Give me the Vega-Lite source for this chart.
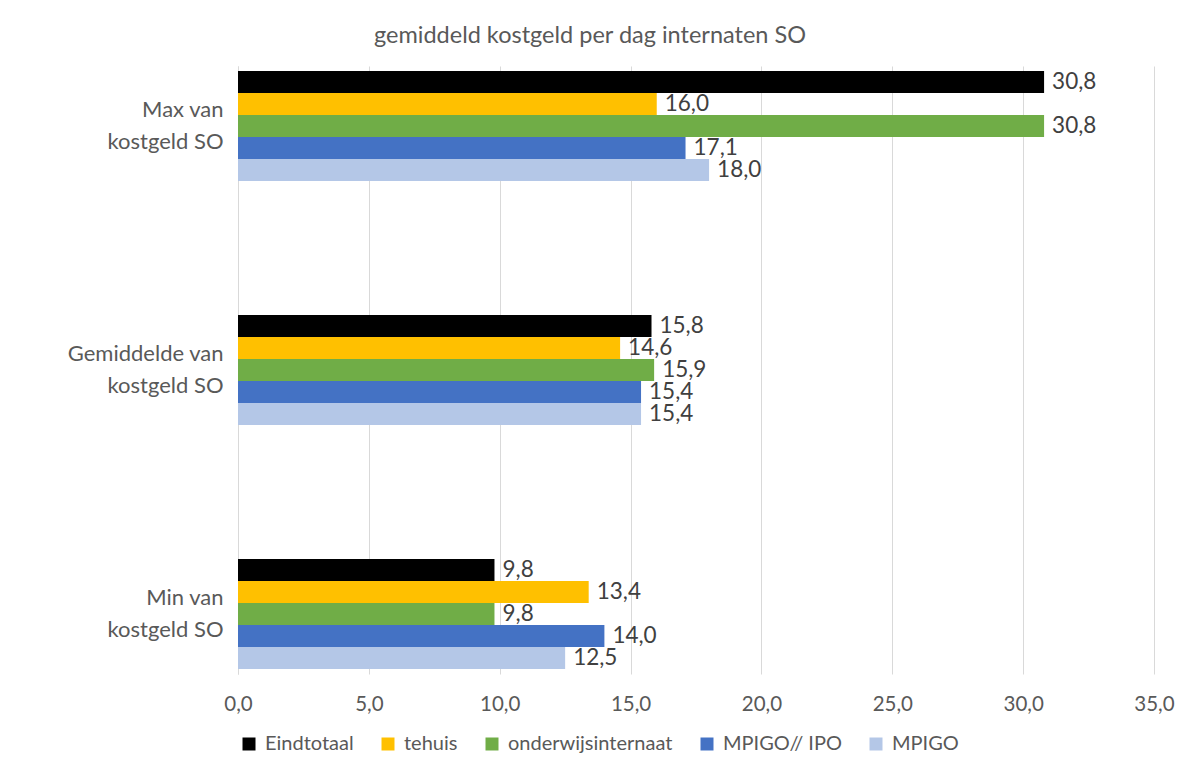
{
  "$schema": "https://vega.github.io/schema/vega-lite/v6.json",
  "width": 916,
  "height": 608,
  "autosize": {"type": "none"},
  "padding": {"left": 238, "top": 66, "right": 27, "bottom": 98},
  "background": "white",
  "config": {
    "locale": {"number": {"decimal": ",", "thousands": ".", "grouping": [3], "currency": ["€", ""]}},
    "view": {"stroke": null},
    "font": "Lato"
  },
  "title": {
    "text": "gemiddeld kostgeld per dag internaten SO",
    "fontSize": 23.5,
    "fontWeight": "normal",
    "color": "#595959",
    "font": "Lato",
    "anchor": "middle",
    "baseline": "bottom",
    "dx": -106,
    "offset": -5
  },
  "data": {
    "values": [
      {"cat": "Max van kostgeld SO", "series": "Eindtotaal", "value": 30.8},
      {"cat": "Max van kostgeld SO", "series": "tehuis", "value": 16.0},
      {"cat": "Max van kostgeld SO", "series": "onderwijsinternaat", "value": 30.8},
      {"cat": "Max van kostgeld SO", "series": "MPIGO// IPO", "value": 17.1},
      {"cat": "Max van kostgeld SO", "series": "MPIGO", "value": 18.0},
      {"cat": "Gemiddelde van kostgeld SO", "series": "Eindtotaal", "value": 15.8},
      {"cat": "Gemiddelde van kostgeld SO", "series": "tehuis", "value": 14.6},
      {"cat": "Gemiddelde van kostgeld SO", "series": "onderwijsinternaat", "value": 15.9},
      {"cat": "Gemiddelde van kostgeld SO", "series": "MPIGO// IPO", "value": 15.4},
      {"cat": "Gemiddelde van kostgeld SO", "series": "MPIGO", "value": 15.4},
      {"cat": "Min van kostgeld SO", "series": "Eindtotaal", "value": 9.8},
      {"cat": "Min van kostgeld SO", "series": "tehuis", "value": 13.4},
      {"cat": "Min van kostgeld SO", "series": "onderwijsinternaat", "value": 9.8},
      {"cat": "Min van kostgeld SO", "series": "MPIGO// IPO", "value": 14.0},
      {"cat": "Min van kostgeld SO", "series": "MPIGO", "value": 12.5}
    ]
  },
  "encoding": {
    "y": {
      "field": "cat",
      "type": "nominal",
      "sort": ["Max van kostgeld SO", "Gemiddelde van kostgeld SO", "Min van kostgeld SO"],
      "scale": {"paddingInner": 0.549, "paddingOuter": 0.02},
      "axis": {
        "title": null,
        "domain": true,
        "domainColor": "#D9D9D9",
        "domainWidth": 1,
        "ticks": false,
        "grid": false,
        "labelAlign": "right",
        "labelBaseline": "middle",
        "labelPadding": 15,
        "labelOffset": -16,
        "labelFontSize": 22,
        "labelColor": "#595959",
        "labelLineHeight": 32,
        "labelLimit": 0,
        "labelExpr": "[replace(datum.label, ' kostgeld SO', ''), 'kostgeld SO']"
      }
    },
    "yOffset": {
      "field": "series",
      "type": "nominal",
      "sort": ["Eindtotaal", "tehuis", "onderwijsinternaat", "MPIGO// IPO", "MPIGO"],
      "scale": {"paddingInner": 0, "paddingOuter": 0}
    },
    "x": {
      "field": "value",
      "type": "quantitative",
      "scale": {"domain": [0, 35], "nice": false},
      "axis": {
        "title": null,
        "values": [0, 5, 10, 15, 20, 25, 30, 35],
        "format": ".1f",
        "domain": false,
        "ticks": false,
        "grid": true,
        "gridColor": "#D9D9D9",
        "labelFlush": false,
        "labelFontSize": 20.5,
        "labelColor": "#595959",
        "labelPadding": 20
      }
    }
  },
  "layer": [
    {
      "mark": {"type": "bar"},
      "encoding": {
        "color": {
          "field": "series",
          "type": "nominal",
          "sort": ["Eindtotaal", "tehuis", "onderwijsinternaat", "MPIGO// IPO", "MPIGO"],
          "scale": {
            "domain": ["Eindtotaal", "tehuis", "onderwijsinternaat", "MPIGO// IPO", "MPIGO"],
            "range": ["#000000", "#FFC000", "#70AD47", "#4472C4", "#B4C7E7"]
          },
          "legend": {
            "title": null,
            "orient": "none",
            "legendX": 1,
            "legendY": 668,
            "direction": "horizontal",
            "symbolType": "square",
            "symbolSize": 169,
            "symbolStrokeWidth": 0,
            "labelFontSize": 20,
            "labelColor": "#595959",
            "labelOffset": 6,
            "labelLimit": 0,
            "columnPadding": 24
          }
        }
      }
    },
    {
      "mark": {"type": "text", "align": "left", "baseline": "middle", "dx": 8, "fontSize": 22.5, "color": "#404040"},
      "encoding": {
        "text": {"field": "value", "type": "quantitative", "format": ".1f"}
      }
    }
  ]
}
